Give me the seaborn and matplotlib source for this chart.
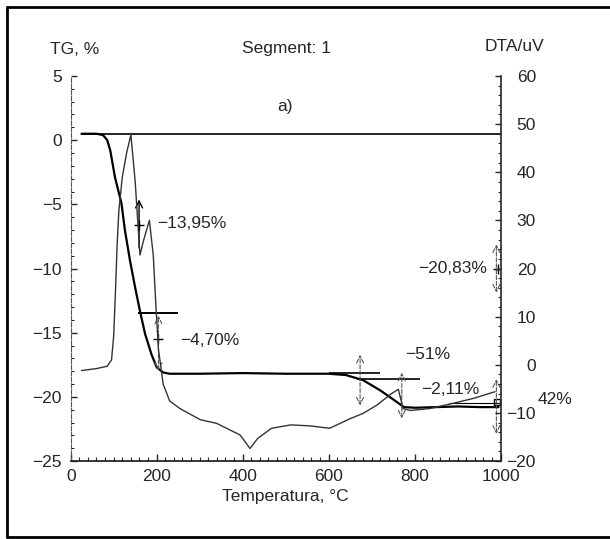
import matplotlib
matplotlib.use("Agg")
import matplotlib.pyplot as plt
from matplotlib.lines import Line2D
from matplotlib.ticker import MultipleLocator
import seaborn as sns

# TG curve (mass change, %), left axis
tg_temp = [25, 60, 75, 85, 92, 103, 118, 126, 138, 150, 161, 173, 188, 200, 215, 230,
           300, 400, 500, 600, 640, 680, 720, 750, 775, 800, 850, 900, 950, 995]
tg_val = [0.5, 0.5, 0.4, 0.0, -0.8, -2.9, -4.9, -7.0, -9.4, -11.5, -13.3, -15.1, -16.7, -17.7, -18.1, -18.2,
          -18.2, -18.15, -18.2, -18.2, -18.3, -18.7, -19.5, -20.2, -20.8, -20.85, -20.8, -20.75, -20.8, -20.8]

# DTA curve (uV), right axis
dta_temp = [25, 60, 85, 95, 100, 104, 108, 112, 120, 130, 140, 150, 156, 161, 170, 183, 192, 198, 204,
            215, 230, 254, 301, 340, 394, 417, 435, 467, 512, 557, 602, 650, 680, 712, 746, 762, 773,
            790, 835, 890, 936, 987]
dta_val = [-1.2, -0.8, -0.3, 1, 6, 15, 25, 32, 39, 44, 47.8, 38, 29.7, 22.8, 26, 30, 22.8, 12.5, 3.3,
           -4, -7.5, -9.1, -11.4, -12.2, -14.6, -17.4, -15.3, -13.2, -12.5, -12.7, -13.2, -11.2, -10.1, -8.4, -6, -5.1, -9.1,
           -9.5, -9.1, -8, -7, -5.6]

# step annotations (text shown on the chart)
step_labels = ["\u221213,95%", "\u22124,70%", "\u221251%", "\u22122,11%", "\u221220,83%", "42%"]

sns.set_style("ticks")
plt.rcParams["font.family"] = ["Liberation Sans", "DejaVu Sans"]
plt.rcParams["font.size"] = 12.5

fig = plt.figure(figsize=(6.1, 5.39), dpi=100)
ax = fig.add_axes([0.1159, 0.1447, 0.7049, 0.7143])
ax2 = ax.twinx()

sns.lineplot(x=tg_temp, y=tg_val, ax=ax, color="black", linewidth=1.6)
sns.lineplot(x=dta_temp, y=dta_val, ax=ax2, color="#333333", linewidth=1.0)

ax.set_xlim(0, 1000)
ax.set_ylim(-25, 5)
ax2.set_ylim(-20, 60)

ax.xaxis.set_major_locator(MultipleLocator(200))
ax.xaxis.set_minor_locator(MultipleLocator(20))
ax.yaxis.set_major_locator(MultipleLocator(5))
ax.yaxis.set_minor_locator(MultipleLocator(1))
ax2.yaxis.set_major_locator(MultipleLocator(10))
ax2.yaxis.set_minor_locator(MultipleLocator(2))

ax.tick_params(axis="x", which="major", direction="in", length=5, width=1, pad=5.5)
ax.tick_params(axis="x", which="minor", direction="in", length=3, width=0.8)
ax.tick_params(axis="y", which="major", direction="in", length=4, width=1, pad=6.3)
ax.tick_params(axis="y", which="minor", direction="in", length=2, width=0.8)
ax2.tick_params(axis="y", which="major", direction="in", length=4, width=1, pad=25.4)
ax2.tick_params(axis="y", which="minor", direction="in", length=2, width=0.8)
for lab in ax2.get_yticklabels():
    lab.set_horizontalalignment("right")

ax.set_xlabel("Temperatura, \u00b0C", labelpad=4)
ax.set_ylabel("")
ax2.set_ylabel("")

ax.spines["top"].set_visible(False)
ax.spines["right"].set_visible(False)
ax.spines["left"].set_color("#555555")
ax.spines["left"].set_linestyle((0, (4, 1.5)))
ax.spines["bottom"].set_linewidth(1.3)
ax2.spines["top"].set_visible(False)
ax2.spines["left"].set_visible(False)
ax2.spines["bottom"].set_visible(False)
ax2.spines["right"].set_linewidth(1.2)

# step markers
ax.hlines(0.5, 25, 1000, color="black", linewidth=1.2)
ax.hlines(-13.45, 156, 250, color="black", linewidth=1.4)
ax.hlines(-18.15, 600, 720, color="black", linewidth=1.2)
ax.hlines(-18.6, 665, 813, color="black", linewidth=1.2)
ax.hlines(-20.5, 880, 995, color="black", linewidth=0.8)

solid = dict(arrowstyle="->", color="black", lw=1.0)
dashed = dict(arrowstyle="<->", color="#555555", lw=0.8, ls="--")
ax.annotate("", xy=(159, -4.4), xytext=(159, -8.6), arrowprops=solid)
ax.plot([159], [-6.6], marker="+", color="black", markersize=7)
ax.annotate("", xy=(204, -13.45), xytext=(204, -18.2), arrowprops=dashed)
ax.plot([204], [-15.5], marker="+", color="black", markersize=7)
ax.annotate("", xy=(673, -16.5), xytext=(673, -20.9), arrowprops=dashed)
ax.annotate("", xy=(770, -17.9), xytext=(770, -21.9), arrowprops=dashed)
ax.annotate("", xy=(990, -7.9), xytext=(990, -12.1), arrowprops=dashed)
ax.plot([993], [-10], marker="+", color="black", markersize=7)
ax.annotate("", xy=(990, -18.4), xytext=(990, -23.1), arrowprops=dashed)
ax.plot([992], [-20.4], marker="s", markerfacecolor="none", markeredgecolor="black", markersize=5)

ax.text(200, -6.5, step_labels[0], ha="left", va="center")
ax.text(254, -15.6, step_labels[1], ha="left", va="center")
ax.text(777, -16.7, step_labels[2], ha="left", va="center")
ax.text(816, -19.4, step_labels[3], ha="left", va="center")
ax.text(968, -10.0, step_labels[4], ha="right", va="center")
ax.text(1087, -20.2, step_labels[5], ha="left", va="center", clip_on=False)

# header texts
fig.text(0.123, 0.909, "TG, %", ha="center", va="center")
fig.text(0.469, 0.910, "Segment: 1", ha="center", va="center")
fig.text(0.844, 0.913, "DTA/uV", ha="center", va="center")
fig.text(0.467, 0.803, "a)", ha="center", va="center")

# scanned page frame
fig.add_artist(Line2D([0.0115, 0.0115], [0.004, 0.987], color="black", linewidth=2))
fig.add_artist(Line2D([0.0115, 1.0], [0.987, 0.987], color="black", linewidth=2))
fig.add_artist(Line2D([0.0115, 1.0], [0.004, 0.004], color="black", linewidth=2))

fig.savefig("out.png", dpi=100)
